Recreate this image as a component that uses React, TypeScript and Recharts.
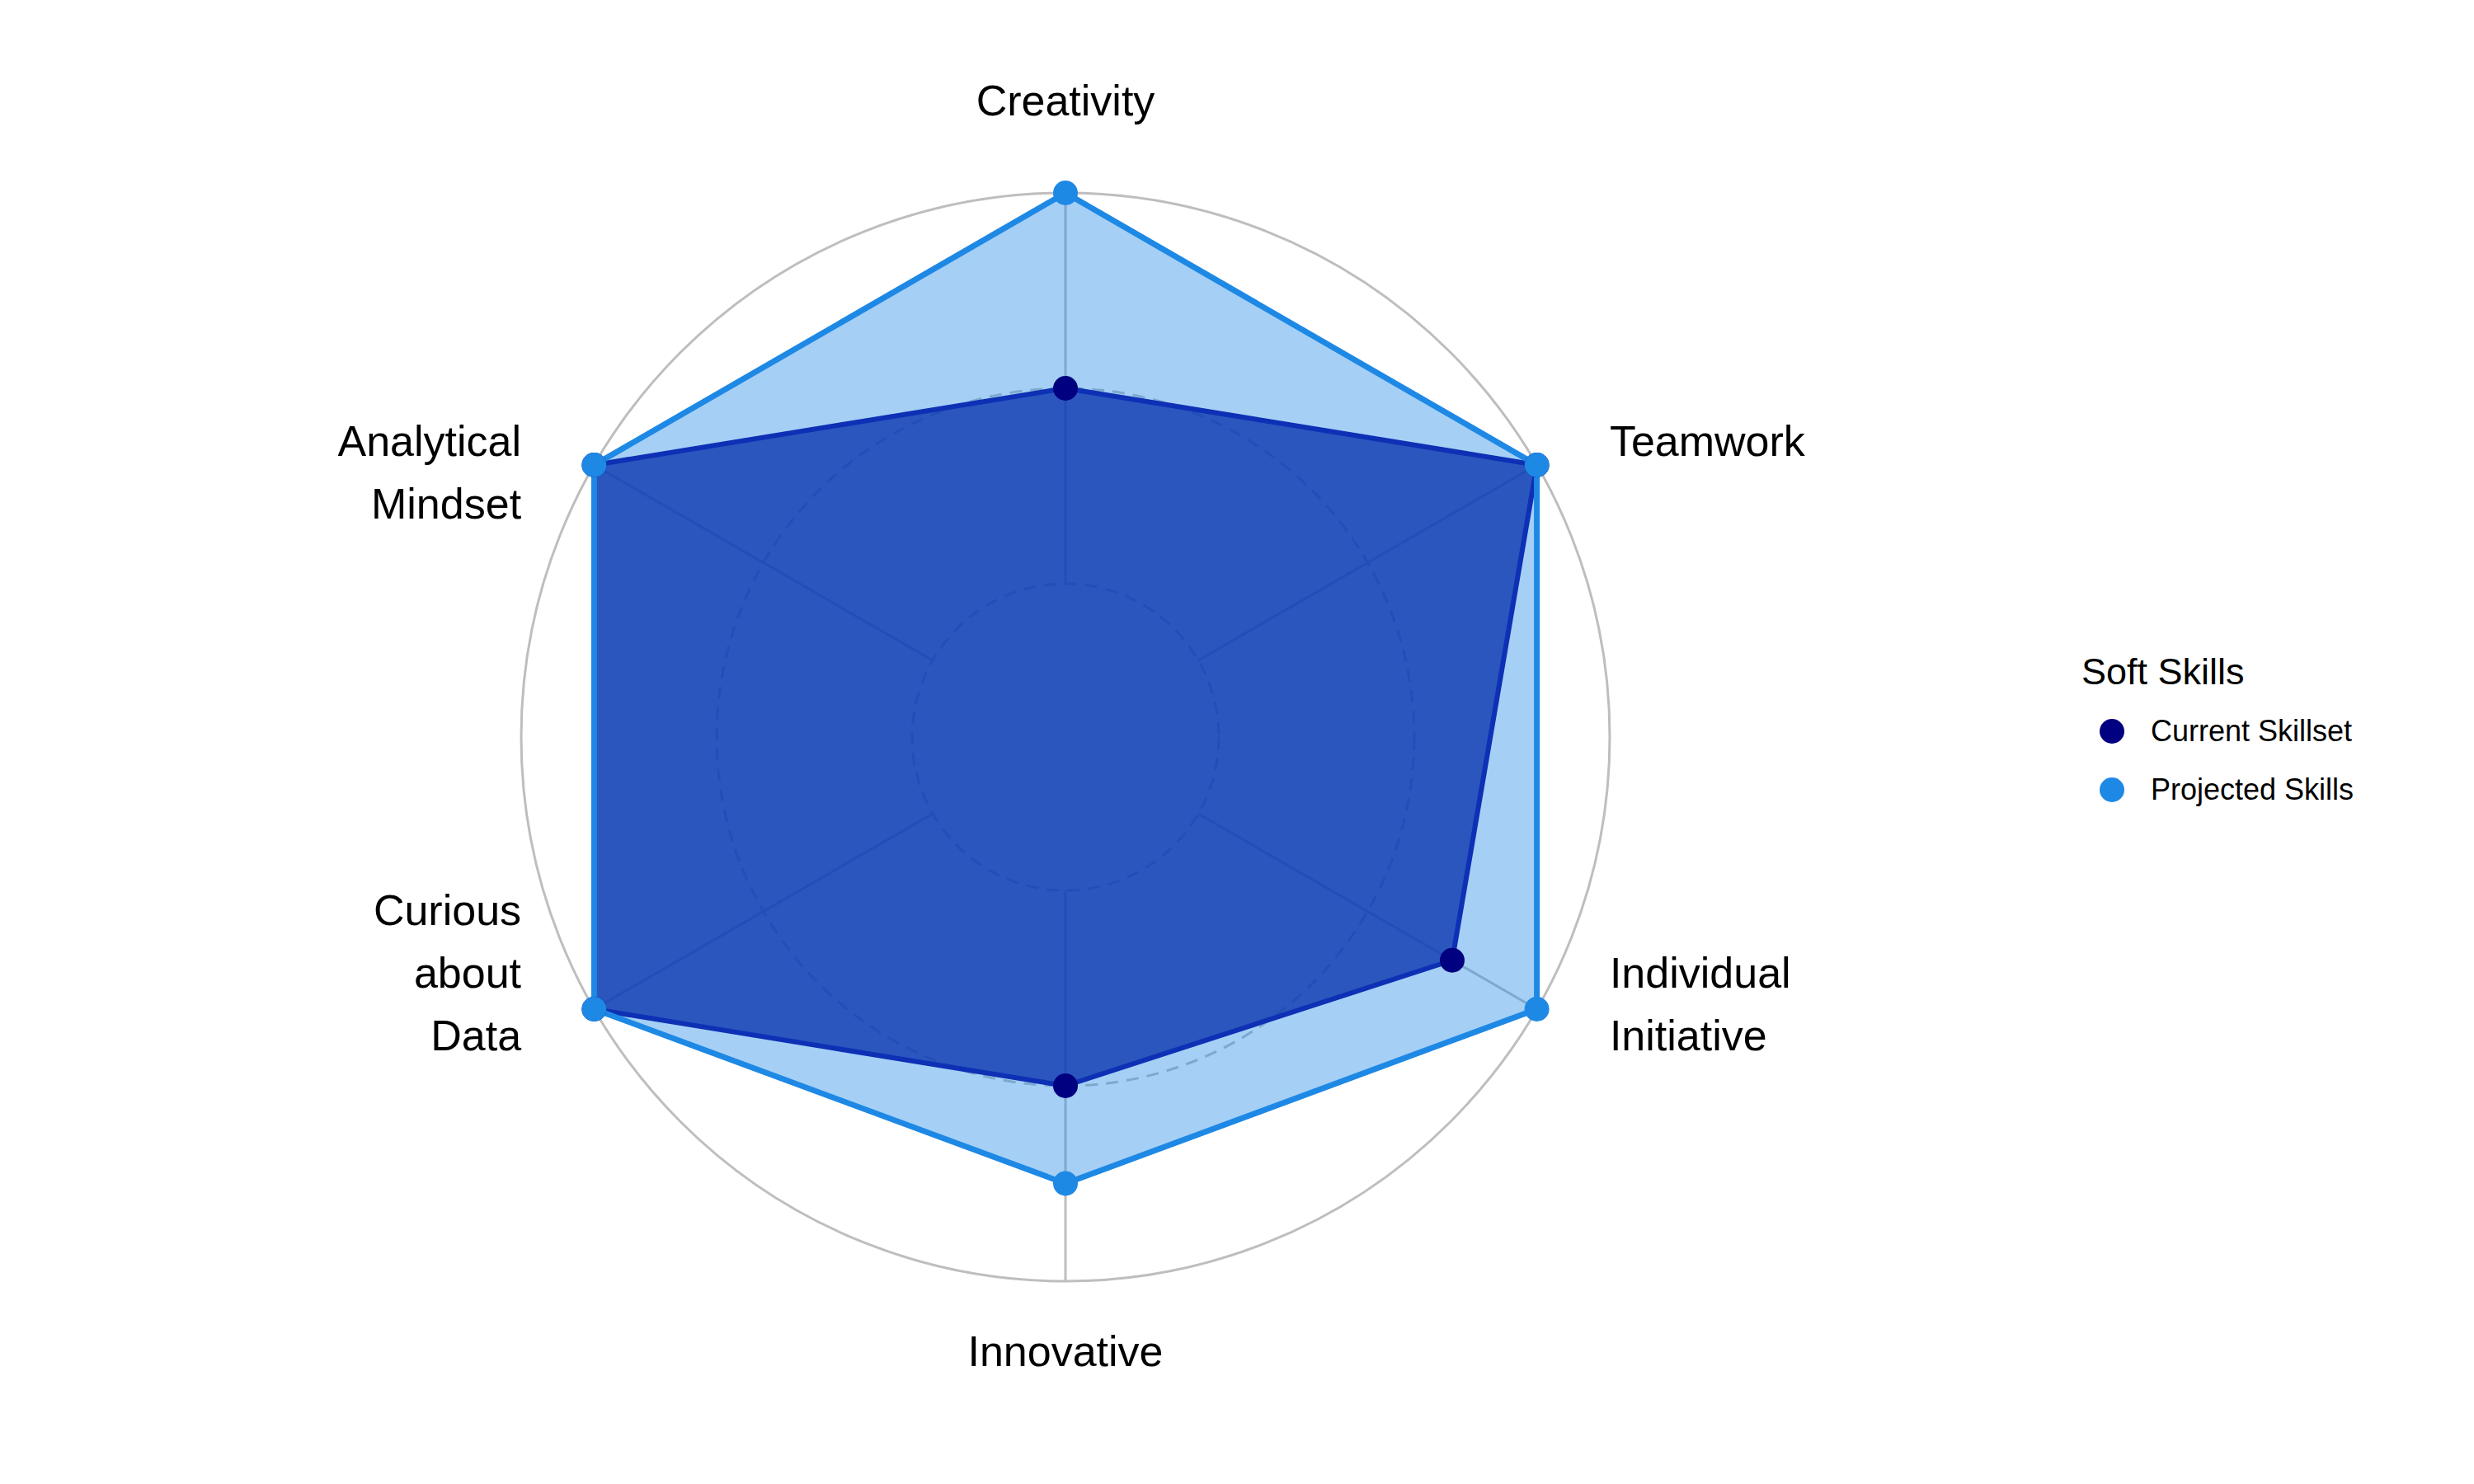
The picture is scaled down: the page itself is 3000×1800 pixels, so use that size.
import React from "react";
import {
  RadarChart,
  Radar,
  PolarGrid,
  PolarAngleAxis,
  PolarRadiusAxis,
  Legend,
} from "recharts";

const skills = [
  "Creativity",
  "Teamwork",
  "Individual Initiative",
  "Innovative",
  "Curious about Data",
  "Analytical Mindset",
];
const currentSkillset = [0.5, 1, 0.75, 0.5, 1, 1];
const projectedSkills = [1, 1, 1, 0.75, 1, 1];

// grid lines: min/mid dashed, max solid (ggradar style)
const gridDashed = [0, 0.5];
const radiusDomain = [0, 1];

const seriesNames = ["Current Skillset", "Projected Skills"];
const seriesDots = ["#000080", "#1E88E5"];
const legendTitle = "Soft Skills";

const chartData = skills.map((skill, i) => ({
  skill,
  current: currentSkillset[i],
  projected: projectedSkills[i],
}));

const FONT = '"Liberation Sans", Arial, sans-serif';
const LINE_H = 76;
const OUTER_R = 660;
const INNER_R = 186; // ggradar centre offset: grid.min sits off the centre

const AngleTick = (props: any) => {
  const { x, y, payload, textAnchor } = props;
  const words = String(payload.value).split(" ");
  const up = Math.sin((payload.coordinate * Math.PI) / 180) > 0.01;
  const side = textAnchor !== "middle";
  let first: number;
  if (side) {
    first = up ? y + 40 : y - 1 - (words.length - 1) * LINE_H;
  } else {
    first = up ? y + 8 : y + 1;
  }
  return (
    <text
      x={x}
      y={first}
      textAnchor={textAnchor}
      fill="#000"
      fontSize={52}
      fontFamily={FONT}
    >
      {words.map((w, i) => (
        <tspan key={i} x={x} y={first + i * LINE_H}>
          {w}
        </tspan>
      ))}
    </text>
  );
};

const LegendBox = () => (
  <div style={{ fontFamily: FONT, color: "#000" }}>
    <div style={{ fontSize: 45, lineHeight: "52px", marginBottom: 10 }}>
      {legendTitle}
    </div>
    {seriesNames.map((name, i) => (
      <div
        key={name}
        style={{ display: "flex", alignItems: "center", height: 71 }}
      >
        <span
          style={{
            display: "inline-block",
            width: 30,
            height: 30,
            borderRadius: "50%",
            background: seriesDots[i],
            marginLeft: 22,
            marginRight: 32,
          }}
        />
        <span style={{ fontSize: 36 }}>{name}</span>
      </div>
    ))}
  </div>
);

export default function App() {
  return (
    <div
      style={{
        position: "absolute",
        left: 0,
        top: 0,
        width: 3000,
        height: 1800,
        background: "#fff",
      }}
    >
      <RadarChart
        width={3000}
        height={1800}
        data={chartData}
        cx={1292}
        cy={894}
        innerRadius={INNER_R}
        outerRadius={OUTER_R}
        margin={{ top: 0, right: 0, bottom: 0, left: 0 }}
      >
        <PolarRadiusAxis
          domain={radiusDomain}
          ticks={gridDashed}
          tick={false}
          axisLine={false}
        />
        <PolarGrid
          gridType="circle"
          radialLines={false}
          stroke="#BEBEBE"
          strokeWidth={3}
          strokeDasharray="15 10"
        />
        <PolarGrid
          gridType="circle"
          polarRadius={[OUTER_R]}
          stroke="#BEBEBE"
          strokeWidth={3}
        />
        <PolarAngleAxis
          dataKey="skill"
          tick={<AngleTick />}
          tickLine={false}
          tickSize={102}
          axisLine={false}
        />
        <Radar
          name="Projected Skills fill"
          dataKey="projected"
          legendType="none"
          fill="#1E88E5"
          fillOpacity={0.4}
          stroke="none"
          dot={false}
          isAnimationActive={false}
        />
        <Radar
          name="Current Skillset"
          dataKey="current"
          fill="#0C37B0"
          fillOpacity={0.8}
          stroke="#0D30B5"
          strokeWidth={6}
          dot={{ r: 15, fill: "#000080", stroke: "none", fillOpacity: 1 }}
          isAnimationActive={false}
        />
        <Radar
          name="Projected Skills"
          dataKey="projected"
          fill="none"
          fillOpacity={0}
          stroke="#1E88E5"
          strokeWidth={7}
          dot={{ r: 15, fill: "#1E88E5", stroke: "none", fillOpacity: 1 }}
          isAnimationActive={false}
        />
        <Legend
          layout="vertical"
          align="right"
          verticalAlign="middle"
          content={<LegendBox />}
          wrapperStyle={{ left: 2524, top: 789, right: "auto", width: 420 }}
        />
      </RadarChart>
    </div>
  );
}
